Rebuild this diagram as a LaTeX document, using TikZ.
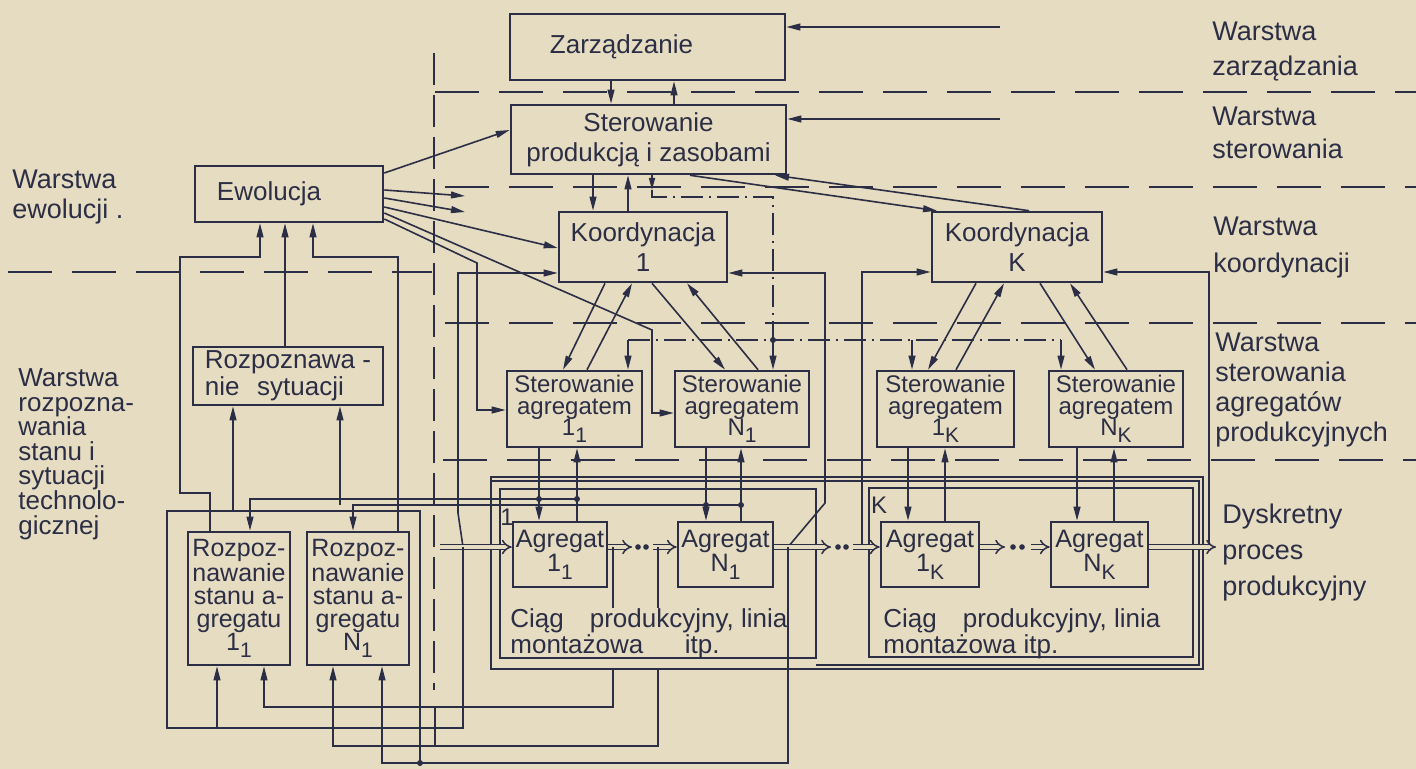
\documentclass[tikz,border=0pt]{standalone}
\usepackage{fontspec}
\setmainfont{Liberation Sans}
\usetikzlibrary{arrows.meta}
\definecolor{papier}{HTML}{E6DCC2}
\definecolor{tusz}{HTML}{2B2E44}
\newcommand\agidx[2]{#1\raisebox{-0.55ex}{\fontsize{10.5}{10}\selectfont #2}}

\begin{document}
\begin{tikzpicture}[x=0.5pt, y=-0.5pt, color=tusz,
            blok/.style={draw, line width=1.3pt, inner sep=1pt, align=center, font=\fontsize{13}{15}\selectfont},
            maly/.style={blok, font=\fontsize{12}{10.8}\selectfont},
            agr/.style={blok, inner sep=0pt, font=\fontsize{12.6}{11}\selectfont},
            rozp/.style={blok, font=\fontsize{12.5}{11.4}\selectfont},
            grupa/.style={draw, line width=0.9pt},
            strzalka/.style={line width=0.8pt, -{Triangle[length=7pt,width=3.4pt]}},
            linia/.style={line width=0.8pt},
            granica/.style={line width=0.9pt, dash pattern=on 22pt off 10pt},
            pion/.style={line width=1pt, dash pattern=on 16pt off 5pt},
            sygnal/.style={line width=0.8pt, dash pattern=on 11pt off 3pt on 1pt off 3pt},
            przeplyw/.style={double=papier, double distance=1.7pt, line width=0.75pt, -{Implies}},
            etykieta/.style={anchor=west, align=left, inner sep=0pt, font=\fontsize{13.5}{17}\selectfont}
        ]
\useasboundingbox (0,0) rectangle (1416,769);
\fill[papier] (0,0) rectangle (1416,769);

% granice warstw
\draw[granica] (435,92) -- (1416,92);
\draw[granica] (445,187) -- (1416,187);
\draw[granica] (8,272) -- (432,272);
\draw[granica] (445,323) -- (1416,323);
\draw[granica] (443,460) -- (1416,460);
\draw[pion] (434,53) -- (434,690);

% opisy warstw
\node[etykieta, font=\fontsize{13.5}{17.5}\selectfont] (wzarz) at (1212,52) {Warstwa\\zarządzania};
\node[etykieta, font=\fontsize{13.5}{16.5}\selectfont] (wster) at (1212,133) {Warstwa\\sterowania};
\node[etykieta, font=\fontsize{13.5}{18.5}\selectfont] (wkoord) at (1213,248) {Warstwa\\koordynacji};
\node[etykieta, font=\fontsize{13.5}{15}\selectfont] (wagr) at (1215,390) {Warstwa\\sterowania\\agregatów\\produkcyjnych};
\node[etykieta, font=\fontsize{13.5}{18}\selectfont] (wproc) at (1222,553) {Dyskretny\\proces\\produkcyjny};
\node[etykieta, font=\fontsize{13.5}{15}\selectfont] (wewol) at (12,197) {Warstwa\\ewolucji .};
\node[etykieta, font=\fontsize{13}{12.3}\selectfont] (wrozp) at (18,454) {Warstwa\\rozpozna-\\wania\\stanu i\\sytuacji\\technolo-\\gicznej};

% bloki
\node[blok, minimum width=137.5pt, minimum height=33pt] (zarz) at (647.5,47) {Zarządzanie\hspace*{26pt}};
\node[blok, minimum width=137.5pt, minimum height=34.5pt] (sterprod) at (648.5,139.5) {Sterowanie\\produkcją i zasobami};
\node[blok, minimum width=94pt, minimum height=28pt] (ewol) at (289,194) {Ewolucja\hspace*{20pt}};
\node[blok, minimum width=84pt, minimum height=35pt] (koord1) at (643,247) {Koordynacja\\1};
\node[blok, minimum width=85pt, minimum height=35pt] (koordK) at (1017,247) {Koordynacja\\K};
\node[maly, minimum width=67.5pt, minimum height=38pt] (ster11) at (574.5,409) {Sterowanie\\agregatem\\\agidx{1}{1}};
\node[maly, minimum width=67pt, minimum height=38pt] (sterN1) at (742,409) {Sterowanie\\agregatem\\\agidx{N}{1}};
\node[maly, minimum width=68.5pt, minimum height=38pt] (ster1K) at (945.5,409) {Sterowanie\\agregatem\\\agidx{1}{K}};
\node[maly, minimum width=67pt, minimum height=38pt] (sterNK) at (1116,409) {Sterowanie\\agregatem\\\agidx{N}{K}};
\node[blok, align=left, font=\fontsize{13}{13.5}\selectfont, minimum width=95pt, minimum height=29pt] (rsyt) at (288,376) {Rozpoznawa -\\nie\hspace{0.4em} sytuacji};
\node[rozp, minimum width=51pt, minimum height=66.5pt] (r11) at (239,598.5) {Rozpoz-\\nawanie\\stanu a-\\gregatu\\\agidx{1}{1}};
\node[rozp, minimum width=51pt, minimum height=66.5pt] (rN1) at (358,598.5) {Rozpoz-\\nawanie\\stanu a-\\gregatu\\\agidx{N}{1}};

% ciagi produkcyjne
\node[grupa, minimum width=356pt, minimum height=96pt] (ciagi) at (847,573) {};
\draw[grupa] (491,481) -- (1199,481) -- (1199,665) -- (816,665);
\node[grupa, minimum width=158pt, minimum height=84.5pt] (ciag1) at (658,573.5) {};
\node[grupa, minimum width=162pt, minimum height=84.5pt] (ciagK) at (1031,572.5) {};
\node[inner sep=0pt, font=\fontsize{12}{12}\selectfont] (nr1) at (507,517) {1};
\node[inner sep=0pt, font=\fontsize{12}{12}\selectfont] (nrK) at (879,505) {K};
\node[etykieta, font=\fontsize{13}{11.5}\selectfont] (opis1) at (510,634) {Ciąg\quad produkcyjny, linia\\montażowa\hspace{1.6em}itp.};
\node[etykieta, font=\fontsize{13}{11.5}\selectfont] (opisK) at (883,634) {Ciąg\quad produkcyjny, linia\\montażowa itp.};

\node[agr, minimum width=47pt, minimum height=32.5pt] (agr11) at (560,554.5) {Agregat\\\agidx{1}{1}};
\node[agr, minimum width=47.5pt, minimum height=32.5pt] (agrN1) at (725.5,554.5) {Agregat\\\agidx{N}{1}};
\node[agr, minimum width=49pt, minimum height=32.5pt] (agr1K) at (930,554.5) {Agregat\\\agidx{1}{K}};
\node[agr, minimum width=48.5pt, minimum height=32.5pt] (agrNK) at (1099.5,554.5) {Agregat\\\agidx{N}{K}};

% punkty
\coordinate (wejZ) at (1000,27);
\coordinate (wejS) at (1000,119);
\coordinate (wolne1) at (465,196);
\coordinate (wolne2) at (465,212);
\coordinate (start) at (440,547);
\coordinate (koniec) at (1216,547);
\coordinate (we1) at (463,547);
\coordinate (wy1) at (788,547);
\coordinate (weK) at (862,547);
\coordinate (wyK) at (1209,547);
\coordinate (rozg) at (773,340);

% zarzadzanie i sterowanie
\draw[strzalka] (wejZ) -- (zarz.east |- wejZ);
\draw[strzalka] (wejS) -- (sterprod.east |- wejS);
\draw[strzalka] (zarz.south -| 611,0) -- (sterprod.north -| 611,0);
\draw[strzalka] (sterprod.north -| 674,0) -- (zarz.south -| 674,0);
\draw[strzalka] (sterprod.south -| 593,0) -- (koord1.north -| 593,0);
\draw[strzalka] (koord1.north -| 628,0) -- (sterprod.south -| 628,0);
\draw[strzalka] (sterprod.south -| 690,0) -- (koordK.north -| 937,0);
\draw[strzalka] (koordK.north -| 1029,0) -- (sterprod.south -| 775,0);

% sygnal do sterowania agregatami
\draw[sygnal, -{Triangle[length=6pt,width=3pt]}] (sterprod.south -| 652,0) -- (652,190);
\draw[sygnal] (652,190) -- (652,197) -- (773,197) -- (rozg);
\draw[sygnal] (628,340) -- (1061,340);
\draw[sygnal, strzalka] (rozg) -- (sterN1.north -| rozg);
\draw[sygnal, strzalka] (628,340) -- (ster11.north -| 628,0);
\draw[sygnal, strzalka] (912,340) -- (ster1K.north -| 912,0);
\draw[sygnal, strzalka] (1061,340) -- (sterNK.north -| 1061,0);

% ewolucja
\draw[strzalka] (ewol.east |- 0,173) -- (sterprod.west |- 0,130);
\draw[strzalka] (ewol.east |- 0,190) -- (wolne1);
\draw[strzalka] (ewol.east |- 0,198) -- (wolne2);
\draw[strzalka] (ewol.east |- 0,207) -- (koord1.west |- 0,248);
\draw[strzalka] (ewol.east |- 0,213) -- (652,330) -- (652,413) -- (sterN1.west |- 0,413);
\draw[strzalka] (ewol.east |- 0,219) -- (477,263) -- (477,410) -- (ster11.west |- 0,410);

% koordynacja
\draw[strzalka] (koord1.south -| 605,0) -- (ster11.north -| 563,0);
\draw[strzalka] (ster11.north -| 587,0) -- (koord1.south -| 632,0);
\draw[strzalka] (koord1.south -| 652,0) -- (sterN1.north -| 725,0);
\draw[strzalka] (sterN1.north -| 758,0) -- (koord1.south -| 687,0);
\draw[strzalka] (koordK.south -| 976,0) -- (ster1K.north -| 928,0);
\draw[strzalka] (ster1K.north -| 956,0) -- (koordK.south -| 1004,0);
\draw[strzalka] (koordK.south -| 1040,0) -- (sterNK.north -| 1095,0);
\draw[strzalka] (sterNK.north -| 1127,0) -- (koordK.south -| 1070,0);
\draw[strzalka] (we1) -- (458,513) -- (458,273) -- (koord1.west |- 0,273);
\draw[strzalka] (wy1) -- (825,503) -- (825,273) -- (koord1.east |- 0,273);
\draw[strzalka] (weK) -- (862,272) -- (koordK.west |- 0,272);
\draw[strzalka] (wyK) -- (1209,272) -- (koordK.east |- 0,272);

% sterowanie agregatami
\draw[strzalka] (ster11.south -| 539,0) -- (agr11.north -| 539,0);
\draw[strzalka] (agr11.north -| 577,0) -- (ster11.south -| 577,0);
\draw[strzalka] (sterN1.south -| 706,0) -- (agrN1.north -| 706,0);
\draw[strzalka] (agrN1.north -| 741,0) -- (sterN1.south -| 741,0);
\draw[strzalka] (ster1K.south -| 908,0) -- (agr1K.north -| 908,0);
\draw[strzalka] (agr1K.north -| 945,0) -- (ster1K.south -| 945,0);
\draw[strzalka] (sterNK.south -| 1077,0) -- (agrNK.north -| 1077,0);
\draw[strzalka] (agrNK.north -| 1114,0) -- (sterNK.south -| 1114,0);

% przeplyw produkcji
\draw[przeplyw] (start) -- (agr11.west |- start);
\draw[przeplyw] (agr11.east |- start) -- (632,547);
\draw[przeplyw] (653,547) -- (agrN1.west |- start);
\draw[przeplyw] (agrN1.east |- start) -- (831,547);
\draw[przeplyw] (853,547) -- (agr1K.west |- start);
\draw[przeplyw] (agr1K.east |- start) -- (1005,547);
\draw[przeplyw] (1031,547) -- (agrNK.west |- start);
\draw[przeplyw] (agrNK.east |- start) -- (koniec);
\foreach \x in {638,646,838,846,1013,1022}
  \fill (\x,547) circle (1.4pt);

% rozpoznawanie
\draw[strzalka] (577,499) -- (250,499) -- (r11.north -| 250,0);
\draw[strzalka] (741,505) -- (353,505) -- (rN1.north -| 353,0);
\draw[strzalka] (340,505) -- (rsyt.south -| 340,0);
\draw[strzalka] (233,511) -- (rsyt.south -| 233,0);
\draw[strzalka] (rsyt.north -| 285,0) -- (ewol.south -| 285,0);
\draw[strzalka] (r11.north -| 210,0) -- (210,493) -- (180,493) -- (180,257) -- (260,257) -- (ewol.south -| 260,0);
\draw[strzalka] (rN1.north -| 398,0) -- (398,257) -- (313,257) -- (ewol.south -| 313,0);
\draw[strzalka] (we1) -- (463,728) -- (217,728) -- (r11.south -| 217,0);
\draw[linia] (217,728) -- (167,728) -- (167,511) -- (420,511) -- (420,763);
\draw[linia] (613,547) -- (613,608);
\draw[strzalka] (613,669) -- (613,707) -- (264,707) -- (r11.south -| 264,0);
\draw[linia] (658,547) -- (658,608);
\draw[strzalka] (658,669) -- (658,746) -- (333,746) -- (rN1.south -| 333,0);
\draw[strzalka] (wy1) -- (788,763) -- (382,763) -- (rN1.south -| 382,0);
\draw[linia] (435,707) -- (435,746);
\foreach \p in {(577,499),(741,505),(rozg),(420,763),(539,499),(706,505)}
  \fill \p circle (1.5pt);
        \end{tikzpicture}
\end{document}
